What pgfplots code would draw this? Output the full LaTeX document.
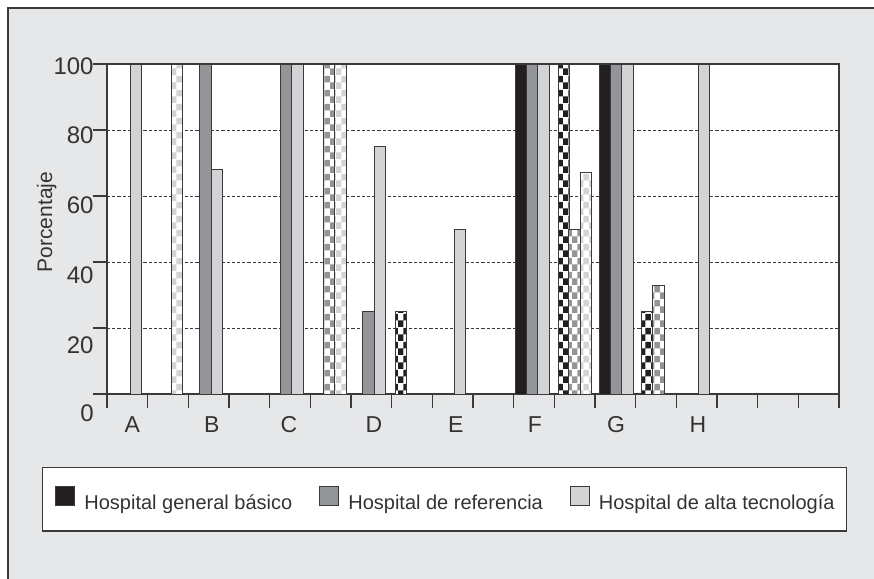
\documentclass[border=0pt]{standalone}
\usepackage{fontspec}
\setmainfont{Liberation Sans}
\usepackage{pgfplots}
\pgfplotsset{compat=1.18}
\usetikzlibrary{patterns}
\definecolor{bg}{HTML}{E6E7E8}
\definecolor{cblack}{HTML}{231F20}
\definecolor{cdark}{HTML}{939598}
\definecolor{clight}{HTML}{D1D3D4}
\definecolor{edge}{HTML}{3A3A3A}
\definecolor{txt}{HTML}{333333}
\pgfdeclarepatternformonly{chk}{\pgfpointorigin}{\pgfqpoint{5.7pt}{7pt}}{\pgfqpoint{5.7pt}{7pt}}{%
  \pgfpathrectangle{\pgfpointorigin}{\pgfqpoint{2.85pt}{3.5pt}}%
  \pgfpathrectangle{\pgfqpoint{2.85pt}{3.5pt}}{\pgfqpoint{2.85pt}{3.5pt}}%
  \pgfusepath{fill}}
\pgfplotsset{
  sq/.style={legend image code/.code={\draw[##1, draw=edge, line width=0.5pt] (0pt,-1.15pt) rectangle (9.5pt,8.35pt);}},
  bars/.style={ybar, bar width=0.283, bar shift=0pt, draw=edge, line width=0.5pt},
}
\begin{document}
\begin{tikzpicture}
\useasboundingbox (-53.5pt,-92.5pt) rectangle (383.5pt,197pt);
\fill[bg] (-49.5pt,-92.5pt) rectangle (383.5pt,193pt);
\draw[edge, line width=0.6pt] (-49.5pt,-92.5pt) -- (-49.5pt,193pt) -- (383.5pt,193pt);
\draw[edge, line width=0.6pt, fill=white] (-32.15pt,-68.5pt) rectangle (369.85pt,-36.85pt);
\begin{axis}[
  at={(0pt,0pt)}, anchor=south west, scale only axis, width=366pt, height=165pt,
  xmin=0, xmax=18, ymin=0, ymax=100, clip=false,
  axis background/.style={fill=white},
  axis line style={edge, line width=0.6pt},
  xtick={0,1,...,18}, xticklabels={}, ytick={0,20,...,100}, yticklabels={},
  tick align=outside, tick pos=left, major tick length=7pt,
  tick style={edge, line width=0.6pt},
  ymajorgrids, grid style={edge, line width=0.5pt, dash pattern=on 1.6pt off 1pt},
  ylabel={Porcentaje},
  every axis y label/.style={at={(axis description cs:-0.0751,0.521)}, rotate=90, anchor=base, font=\fontsize{10.5}{12}\selectfont, text=txt},
  legend style={at={(-0.0710,-0.3197)}, anchor=west, draw=none, fill=none, inner sep=0pt,
    font=\fontsize{10}{12}\selectfont, text=txt, nodes={inner sep=0pt},
    /tikz/every odd column/.append style={column sep=4.5pt},
    /tikz/every even column/.append style={column sep=13.5pt}},
  legend columns=3, legend cell align=left,
]
\addplot[bars, fill=cblack, sq] coordinates {(10.175,100) (12.245,100)};
\addlegendentry{Hospital general básico}
\addplot[bars, fill=cdark, sq] coordinates {(2.422,100) (4.406,100) (6.43,25) (10.458,100) (12.523,100)};
\addlegendentry{Hospital de referencia}
\addplot[bars, fill=clight, sq] coordinates {(0.708,100) (2.70,68) (4.684,100) (6.717,75) (8.684,50) (10.737,100) (12.798,100) (14.68,100)};
\addlegendentry{Hospital de alta tecnología}
\addplot[bars, preaction={fill=white}, pattern=chk, pattern color=cblack, forget plot] coordinates {(7.225,25) (11.232,100) (13.273,25)};
\addplot[bars, preaction={fill=white}, pattern=chk, pattern color=cdark, forget plot] coordinates {(5.463,100) (11.50,50) (13.556,33)};
\addplot[bars, preaction={fill=white}, pattern=chk, pattern color=clight, forget plot] coordinates {(1.716,100) (5.741,100) (11.773,67)};
% y tick labels
\node[anchor=east, inner sep=0pt, font=\fontsize{12}{14}\selectfont, text=txt] at ([xshift=-6.5pt,yshift=-1pt]axis cs:0,100) {100};
\node[anchor=east, inner sep=0pt, font=\fontsize{12}{14}\selectfont, text=txt] at ([xshift=-6.5pt,yshift=-2.75pt]axis cs:0,80) {80};
\node[anchor=east, inner sep=0pt, font=\fontsize{12}{14}\selectfont, text=txt] at ([xshift=-6.5pt,yshift=-4.5pt]axis cs:0,60) {60};
\node[anchor=east, inner sep=0pt, font=\fontsize{12}{14}\selectfont, text=txt] at ([xshift=-6.5pt,yshift=-6.75pt]axis cs:0,40) {40};
\node[anchor=east, inner sep=0pt, font=\fontsize{12}{14}\selectfont, text=txt] at ([xshift=-6.5pt,yshift=-8.5pt]axis cs:0,20) {20};
\node[anchor=east, inner sep=0pt, font=\fontsize{12}{14}\selectfont, text=txt] at ([xshift=-6.5pt,yshift=-9.5pt]axis cs:0,0) {0};
% category labels
\node[inner sep=0pt, font=\fontsize{11.5}{13}\selectfont, text=txt] at ([yshift=-15.5pt]axis cs:0.62,0) {A};
\node[inner sep=0pt, font=\fontsize{11.5}{13}\selectfont, text=txt] at ([yshift=-15.5pt]axis cs:2.58,0) {B};
\node[inner sep=0pt, font=\fontsize{11.5}{13}\selectfont, text=txt] at ([yshift=-15.5pt]axis cs:4.475,0) {C};
\node[inner sep=0pt, font=\fontsize{11.5}{13}\selectfont, text=txt] at ([yshift=-15.5pt]axis cs:6.565,0) {D};
\node[inner sep=0pt, font=\fontsize{11.5}{13}\selectfont, text=txt] at ([yshift=-15.5pt]axis cs:8.58,0) {E};
\node[inner sep=0pt, font=\fontsize{11.5}{13}\selectfont, text=txt] at ([yshift=-15.5pt]axis cs:10.52,0) {F};
\node[inner sep=0pt, font=\fontsize{11.5}{13}\selectfont, text=txt] at ([yshift=-15.5pt]axis cs:12.52,0) {G};
\node[inner sep=0pt, font=\fontsize{11.5}{13}\selectfont, text=txt] at ([yshift=-15.5pt]axis cs:14.53,0) {H};
\end{axis}
\end{tikzpicture}
\end{document}
